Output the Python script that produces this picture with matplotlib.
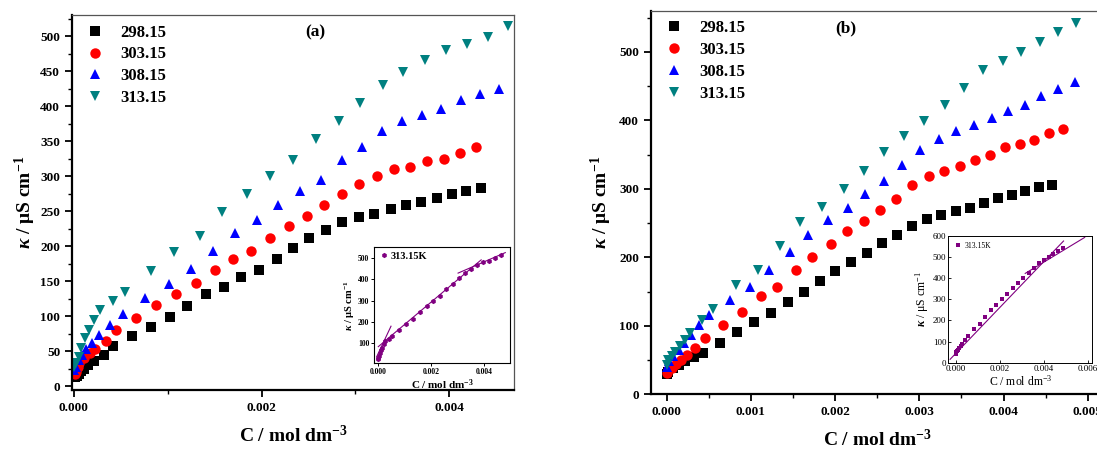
import matplotlib
matplotlib.use('Agg')
import matplotlib.pyplot as plt
from matplotlib.ticker import MultipleLocator

plt.rcParams.update({
    'font.family': 'Liberation Serif',
    'font.weight': 'bold',
    'mathtext.fontset': 'custom',
    'mathtext.rm': 'Liberation Serif:bold',
    'mathtext.it': 'Liberation Serif:italic:bold',
    'mathtext.bf': 'Liberation Serif:bold',
})

temps = ['298.15', '303.15', '308.15', '313.15']
colors = ['black', 'red', 'blue', '#008080']
markers = ['s', 'o', '^', 'v']

# ---- panel (a) data ----
a_C_298 = [0.00001, 0.00003, 0.00005, 0.00008, 0.00011, 0.00015, 0.00021, 0.00032, 0.00042, 0.00062,
           0.00082, 0.00102, 0.00121, 0.00141, 0.0016, 0.00178, 0.00197, 0.00216, 0.00234, 0.00251,
           0.00269, 0.00286, 0.00304, 0.0032, 0.00338, 0.00354, 0.0037, 0.00387, 0.00403, 0.00418, 0.00434]
a_k_298 = [13, 15, 18, 21, 25, 30, 36, 45, 57, 72, 85, 99, 115, 131, 142, 156, 166, 181, 198, 211,
           223, 235, 242, 246, 253, 258, 263, 269, 274, 279, 283]
a_C_303 = [0.00001, 0.00002, 0.00004, 0.00006, 0.00011, 0.00017, 0.00023, 0.00034, 0.00045, 0.00066,
           0.00087, 0.00109, 0.0013, 0.0015, 0.0017, 0.00189, 0.00209, 0.00229, 0.00248, 0.00267,
           0.00286, 0.00304, 0.00323, 0.00341, 0.00358, 0.00376, 0.00394, 0.00411, 0.00428]
a_k_303 = [17, 20, 27, 33, 40, 47, 53, 65, 80, 98, 116, 131, 147, 166, 181, 193, 211, 228, 243, 259,
           274, 289, 300, 310, 313, 321, 325, 333, 341]
a_C_308 = [0.000005, 0.00002, 0.00006, 0.00009, 0.00013, 0.00019, 0.00027, 0.00039, 0.00052, 0.00076,
           0.00101, 0.00125, 0.00148, 0.00172, 0.00195, 0.00218, 0.00241, 0.00263, 0.00286, 0.00307,
           0.00328, 0.0035, 0.00371, 0.00391, 0.00412, 0.00433, 0.00453]
a_k_308 = [23, 28, 37, 45, 53, 61, 73, 87, 103, 126, 146, 167, 193, 219, 237, 258, 278, 294, 323, 341,
           364, 378, 387, 396, 408, 417, 424]
a_C_313 = [0.000007, 0.00002, 0.00005, 0.00008, 0.00012, 0.00016, 0.00022, 0.00028, 0.00042, 0.00055,
           0.00082, 0.00107, 0.00134, 0.00158, 0.00184, 0.00209, 0.00233, 0.00258, 0.00283, 0.00305,
           0.00329, 0.00351, 0.00374, 0.00396, 0.00419, 0.00441, 0.00463]
a_k_313 = [28, 33, 42, 54, 69, 80, 95, 109, 121, 134, 164, 191, 214, 248, 274, 300, 323, 353, 379, 404,
           430, 449, 466, 480, 488, 498, 514]

# ---- panel (b) data ----
b_C_298 = [0.0, 0.00002, 0.00008, 0.00014, 0.00022, 0.00032, 0.00043, 0.00063, 0.00084, 0.00104,
           0.00124, 0.00144, 0.00163, 0.00182, 0.002, 0.00219, 0.00238, 0.00256, 0.00274, 0.00291,
           0.00309, 0.00326, 0.00344, 0.0036, 0.00377, 0.00394, 0.0041, 0.00426, 0.00442, 0.00458]
b_k_298 = [30, 33, 38, 43, 48, 55, 61, 75, 91, 105, 119, 135, 150, 166, 180, 193, 207, 221, 233, 246,
           256, 262, 268, 272, 279, 286, 291, 297, 302, 306]
b_C_303 = [0.0, 0.00002, 0.00006, 0.00011, 0.00017, 0.00024, 0.00034, 0.00046, 0.00067, 0.00089,
           0.00112, 0.00131, 0.00153, 0.00173, 0.00195, 0.00214, 0.00234, 0.00253, 0.00272, 0.00291,
           0.00311, 0.00329, 0.00348, 0.00366, 0.00384, 0.00402, 0.00419, 0.00436, 0.00454, 0.00471]
b_k_303 = [31, 35, 39, 44, 50, 58, 68, 82, 101, 120, 143, 156, 181, 200, 219, 239, 253, 269, 285, 305,
           319, 326, 333, 342, 350, 361, 365, 371, 382, 388]
b_C_308 = [0.0, 0.00003, 0.00008, 0.00014, 0.0002, 0.00029, 0.00038, 0.0005, 0.00075, 0.00099,
           0.00122, 0.00146, 0.00168, 0.00192, 0.00215, 0.00236, 0.00258, 0.0028, 0.00301, 0.00323,
           0.00344, 0.00365, 0.00386, 0.00405, 0.00425, 0.00445, 0.00465, 0.00485]
b_k_308 = [40, 48, 56, 65, 75, 87, 101, 116, 138, 157, 182, 208, 233, 255, 272, 292, 311, 335, 356, 372,
           384, 393, 403, 414, 423, 435, 445, 456]
b_C_313 = [0.0, 0.00002, 0.00006, 0.0001, 0.00016, 0.00022, 0.00028, 0.00042, 0.00055, 0.00082,
           0.00108, 0.00134, 0.00158, 0.00184, 0.0021, 0.00234, 0.00258, 0.00282, 0.00306, 0.0033,
           0.00353, 0.00376, 0.00399, 0.00421, 0.00443, 0.00465, 0.00486]
b_k_313 = [43, 50, 56, 62, 70, 80, 89, 109, 125, 160, 182, 216, 251, 274, 299, 326, 354, 377, 399, 422,
           447, 473, 487, 499, 514, 529, 542]

# fitted line segments drawn in the insets (313.15 K)
ia_fit_C = [[-0.00004, 0.0005], [0.00002, 0.0039], [0.00303, 0.00481]]
ia_fit_k = [[37, 180], [84, 491], [429, 525]]
ib_fit_C = [[-0.00026, 0.00489], [0.00315, 0.00585]]
ib_fit_k = [[16, 575], [422, 592]]

purple = '#800080'
ylab = r'$\kappa$ / μS cm$\mathregular{^{-1}}$'
xlab = r'C / mol dm$\mathregular{^{-3}}$'

fig = plt.figure(figsize=(10.97, 4.55), dpi=100)


def style_main(ax):
    for s in ['left', 'bottom']:
        ax.spines[s].set_linewidth(1.6)
        ax.spines[s].set_color('black')
    for s in ['top', 'right']:
        ax.spines[s].set_linewidth(0.9)
        ax.spines[s].set_color('#555555')
    ax.tick_params(which='major', direction='out', length=5, width=1.3, labelsize=9.5)
    ax.tick_params(which='minor', direction='out', length=3, width=1.0)


# ---------------- panel (a) ----------------
axa = fig.add_axes([0.0656, 0.1429, 0.403, 0.824])
series_a = [(a_C_298, a_k_298), (a_C_303, a_k_303), (a_C_308, a_k_308), (a_C_313, a_k_313)]
for (c, k), t, col, m in zip(series_a, temps, colors, markers):
    axa.plot(c, k, linestyle='none', marker=m, color=col, markersize=7.5 if m != 's' else 6.5,
             markeredgewidth=0, label=t)
axa.set_xlim(-0.00002, 0.00469)
axa.set_ylim(-5.5, 530)
axa.xaxis.set_major_locator(MultipleLocator(0.002))
axa.xaxis.set_minor_locator(MultipleLocator(0.001))
axa.yaxis.set_major_locator(MultipleLocator(50))
axa.yaxis.set_minor_locator(MultipleLocator(25))
axa.xaxis.set_major_formatter(matplotlib.ticker.FormatStrFormatter('%.3f'))
style_main(axa)
axa.set_xlabel(xlab, fontsize=14, fontweight='bold', labelpad=8)
axa.set_ylabel(ylab, fontsize=14, fontweight='bold', labelpad=2)
axa.text(0.55, 0.955, '(a)', transform=axa.transAxes, ha='center', va='center',
         fontsize=12.5, fontweight='bold')
axa.legend(loc='upper left', bbox_to_anchor=(0.0, 1.01), frameon=False, fontsize=12,
           handletextpad=0.9, labelspacing=0.35, borderpad=0.3, handlelength=1.2)

# inset (a)
ia = fig.add_axes([0.3412, 0.2015, 0.124, 0.255])
ia.plot(a_C_313, a_k_313, linestyle='none', marker='h', color=purple, markersize=3.8,
        markeredgewidth=0, label='313.15K')
for c, k in zip(ia_fit_C, ia_fit_k):
    ia.plot(c, k, color=purple, linewidth=0.8)
ia.set_xlim(-0.00013, 0.005)
ia.set_ylim(6, 550)
ia.xaxis.set_major_locator(MultipleLocator(0.002))
ia.xaxis.set_major_formatter(matplotlib.ticker.FormatStrFormatter('%.3f'))
ia.yaxis.set_major_locator(MultipleLocator(100))
ia.tick_params(direction='out', length=2, width=0.7, labelsize=5.5, pad=1.5)
for s in ia.spines.values():
    s.set_linewidth(0.8)
ia.set_xlabel(xlab, fontsize=8, fontweight='bold', labelpad=1)
ia.set_ylabel(ylab, fontsize=7.5, fontweight='bold', labelpad=1)
ia.legend(loc='upper left', frameon=False, fontsize=7.5, handletextpad=0.2, borderpad=0.3,
          handlelength=1.0, borderaxespad=0.1)

# ---------------- panel (b) ----------------
axb = fig.add_axes([0.5932, 0.1334, 0.4137, 0.8431])
series_b = [(b_C_298, b_k_298), (b_C_303, b_k_303), (b_C_308, b_k_308), (b_C_313, b_k_313)]
for (c, k), t, col, m in zip(series_b, temps, colors, markers):
    axb.plot(c, k, linestyle='none', marker=m, color=col, markersize=7.5 if m != 's' else 6.5,
             markeredgewidth=0, label=t)
axb.set_xlim(-0.00019, 0.0052)
axb.set_ylim(0, 560)
axb.xaxis.set_major_locator(MultipleLocator(0.001))
axb.xaxis.set_minor_locator(MultipleLocator(0.0005))
axb.yaxis.set_major_locator(MultipleLocator(100))
axb.yaxis.set_minor_locator(MultipleLocator(50))
axb.xaxis.set_major_formatter(matplotlib.ticker.FormatStrFormatter('%.3f'))
style_main(axb)
axb.set_xlabel(xlab, fontsize=14, fontweight='bold', labelpad=8)
axb.set_ylabel(ylab, fontsize=14, fontweight='bold', labelpad=4)
axb.text(0.43, 0.955, '(b)', transform=axb.transAxes, ha='center', va='center',
         fontsize=12.5, fontweight='bold')
axb.legend(loc='upper left', bbox_to_anchor=(0.0, 1.01), frameon=False, fontsize=12,
           handletextpad=0.9, labelspacing=0.35, borderpad=0.3, handlelength=1.2)

# inset (b)
ib = fig.add_axes([0.8645, 0.2029, 0.1313, 0.279])
ib.plot(b_C_313, b_k_313, linestyle='none', marker='s', color=purple, markersize=3.5,
        markeredgewidth=0, label='313.15K')
for c, k in zip(ib_fit_C, ib_fit_k):
    ib.plot(c, k, color=purple, linewidth=0.8)
ib.set_xlim(-0.00034, 0.0062)
ib.set_ylim(0, 600)
ib.xaxis.set_major_locator(MultipleLocator(0.002))
ib.xaxis.set_major_formatter(matplotlib.ticker.FormatStrFormatter('%.3f'))
ib.yaxis.set_major_locator(MultipleLocator(100))
ib.tick_params(direction='in', length=2, width=0.6, labelsize=6.5, pad=1.5)
for lbl in ib.get_xticklabels() + ib.get_yticklabels():
    lbl.set_fontweight('normal')
for s in ib.spines.values():
    s.set_linewidth(0.7)
ib.set_xlabel(xlab, fontsize=8.5, fontweight='normal', labelpad=1)
ib.set_ylabel(ylab, fontsize=8.5, fontweight='normal', labelpad=1)
ib.legend(loc='upper left', frameon=False, prop={'size': 5.5, 'weight': 'normal'},
          handletextpad=0.3, borderpad=0.3, handlelength=1.0)

fig.savefig('out.png', dpi=100)
